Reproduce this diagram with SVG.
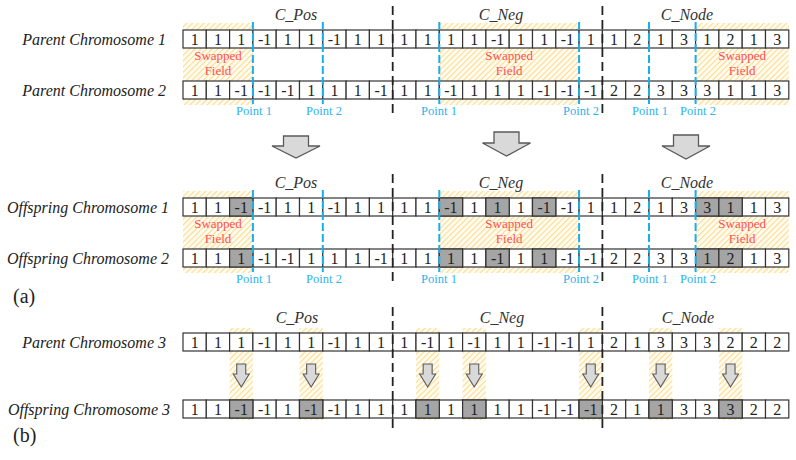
<svg xmlns="http://www.w3.org/2000/svg" xmlns:xlink="http://www.w3.org/1999/xlink" width="796" height="460" viewBox="0 0 796 460">
<style>
.v{font-family:"Liberation Serif","Times New Roman",serif;font-size:16px;text-anchor:middle;fill:#222}
.lbl{font-family:"Liberation Serif","Times New Roman",serif;font-style:italic;font-size:16px;text-anchor:end;fill:#222}
.sec{font-family:"Liberation Serif","Times New Roman",serif;font-style:italic;font-size:16px;text-anchor:middle;fill:#333}
.pt{font-family:"Liberation Serif","Times New Roman",serif;font-size:12.5px;text-anchor:middle;fill:#2db4ee}
.sw{font-family:"Liberation Serif","Times New Roman",serif;font-size:13px;text-anchor:middle;fill:#ff5050}
.tag{font-family:"Liberation Serif","Times New Roman",serif;font-size:20px;fill:#222}
.cell{fill:#fff;stroke:#333;stroke-width:1.2}
.g{fill:#a5a5a5;stroke:#333;stroke-width:1.2}
.hatch{fill:url(#hp)}
.cut{stroke:#1aaeea;stroke-width:2;stroke-dasharray:8,3;fill:none}
.div{stroke:#222;stroke-width:1.8;stroke-dasharray:9,5;fill:none}
.big{fill:#d9d9d9;stroke:#5a5a5a;stroke-width:1.3}
</style>
<defs>
<pattern id="hp" patternUnits="userSpaceOnUse" width="4" height="4" patternTransform="rotate(45)">
<rect width="4" height="4" fill="#fffcf0"/>
<rect width="1.1" height="4" fill="#fcdb92"/>
</pattern>
<g id="frame">
<rect class="cell" x="183" y="0" width="23.3" height="18"/><rect class="cell" x="206.3" y="0" width="23.3" height="18"/><rect class="cell" x="229.6" y="0" width="23.3" height="18"/><rect class="cell" x="252.9" y="0" width="23.3" height="18"/><rect class="cell" x="276.2" y="0" width="23.3" height="18"/><rect class="cell" x="299.5" y="0" width="23.3" height="18"/><rect class="cell" x="322.8" y="0" width="23.3" height="18"/><rect class="cell" x="346.1" y="0" width="23.3" height="18"/><rect class="cell" x="369.4" y="0" width="23.3" height="18"/><rect class="cell" x="392.7" y="0" width="23.3" height="18"/><rect class="cell" x="416" y="0" width="23.3" height="18"/><rect class="cell" x="439.3" y="0" width="23.3" height="18"/><rect class="cell" x="462.6" y="0" width="23.3" height="18"/><rect class="cell" x="485.9" y="0" width="23.3" height="18"/><rect class="cell" x="509.2" y="0" width="23.3" height="18"/><rect class="cell" x="532.5" y="0" width="23.3" height="18"/><rect class="cell" x="555.8" y="0" width="23.3" height="18"/><rect class="cell" x="579.1" y="0" width="23.3" height="18"/><rect class="cell" x="602.4" y="0" width="23.3" height="18"/><rect class="cell" x="625.7" y="0" width="23.3" height="18"/><rect class="cell" x="649" y="0" width="23.3" height="18"/><rect class="cell" x="672.3" y="0" width="23.3" height="18"/><rect class="cell" x="695.6" y="0" width="23.3" height="18"/><rect class="cell" x="718.9" y="0" width="23.3" height="18"/><rect class="cell" x="742.2" y="0" width="23.3" height="18"/><rect class="cell" x="765.5" y="0" width="23.3" height="18"/>
</g>
<path id="sarrow" d="M-4.5,0 H4.5 V10 H8 L0,23 L-8,10 H-4.5 Z"/>
</defs>
<rect width="796" height="460" fill="#fff"/>

<!-- hatched swapped fields / mutation columns -->
<g id="hatches">
<rect class="hatch" x="183" y="23" width="69.9" height="82"/>
<rect class="hatch" x="439.3" y="23" width="139.8" height="82"/>
<rect class="hatch" x="695.6" y="23" width="93.2" height="82"/>
<rect class="hatch" x="183" y="191" width="69.9" height="82"/>
<rect class="hatch" x="439.3" y="191" width="139.8" height="82"/>
<rect class="hatch" x="695.6" y="191" width="93.2" height="82"/>
<rect class="hatch" x="229.6" y="328" width="23.3" height="92"/>
<rect class="hatch" x="299.5" y="328" width="23.3" height="92"/>
<rect class="hatch" x="416" y="328" width="23.3" height="92"/>
<rect class="hatch" x="462.6" y="328" width="23.3" height="92"/>
<rect class="hatch" x="579.1" y="328" width="23.3" height="92"/>
<rect class="hatch" x="649" y="328" width="23.3" height="92"/>
<rect class="hatch" x="718.9" y="328" width="23.3" height="92"/>
</g>

<g id="swapped-texts">
<text class="sw" x="218" y="60">Swapped</text><text class="sw" x="218" y="74.5">Field</text>
<text class="sw" x="509.2" y="60">Swapped</text><text class="sw" x="509.2" y="74.5">Field</text>
<text class="sw" x="742.2" y="60">Swapped</text><text class="sw" x="742.2" y="74.5">Field</text>
<text class="sw" x="218" y="228">Swapped</text><text class="sw" x="218" y="242.5">Field</text>
<text class="sw" x="509.2" y="228">Swapped</text><text class="sw" x="509.2" y="242.5">Field</text>
<text class="sw" x="742.2" y="228">Swapped</text><text class="sw" x="742.2" y="242.5">Field</text>
</g>

<g id="section-labels">
<text class="sec" x="296" y="20">C_Pos</text><text class="sec" x="501" y="20">C_Neg</text><text class="sec" x="687" y="20">C_Node</text>
<text class="sec" x="296" y="188">C_Pos</text><text class="sec" x="501" y="188">C_Neg</text><text class="sec" x="687" y="188">C_Node</text>
<text class="sec" x="297" y="323">C_Pos</text><text class="sec" x="502" y="323">C_Neg</text><text class="sec" x="688" y="323">C_Node</text>
</g>

<!-- Parent Chromosome 1 -->
<g id="parent1">
<text class="lbl" x="166" y="45">Parent Chromosome 1</text>
<use xlink:href="#frame" href="#frame" y="30"/>
<g transform="translate(0,45)">
<text class="v" x="194.65">1</text><text class="v" x="217.95">1</text><text class="v" x="241.25">1</text><text class="v" x="264.55">-1</text><text class="v" x="287.85">1</text><text class="v" x="311.15">1</text><text class="v" x="334.45">-1</text><text class="v" x="357.75">1</text><text class="v" x="381.05">1</text>
<text class="v" x="404.35">1</text><text class="v" x="427.65">1</text><text class="v" x="450.95">1</text><text class="v" x="474.25">1</text><text class="v" x="497.55">-1</text><text class="v" x="520.85">1</text><text class="v" x="544.15">1</text><text class="v" x="567.45">-1</text><text class="v" x="590.75">1</text>
<text class="v" x="614.05">1</text><text class="v" x="637.35">2</text><text class="v" x="660.65">1</text><text class="v" x="683.95">3</text><text class="v" x="707.25">1</text><text class="v" x="730.55">2</text><text class="v" x="753.85">1</text><text class="v" x="777.15">3</text>
</g>
</g>

<!-- Parent Chromosome 2 -->
<g id="parent2">
<text class="lbl" x="166" y="96">Parent Chromosome 2</text>
<use xlink:href="#frame" href="#frame" y="81"/>
<g transform="translate(0,96)">
<text class="v" x="194.65">1</text><text class="v" x="217.95">1</text><text class="v" x="241.25">-1</text><text class="v" x="264.55">-1</text><text class="v" x="287.85">-1</text><text class="v" x="311.15">1</text><text class="v" x="334.45">1</text><text class="v" x="357.75">1</text><text class="v" x="381.05">-1</text>
<text class="v" x="404.35">1</text><text class="v" x="427.65">1</text><text class="v" x="450.95">-1</text><text class="v" x="474.25">1</text><text class="v" x="497.55">1</text><text class="v" x="520.85">1</text><text class="v" x="544.15">-1</text><text class="v" x="567.45">-1</text><text class="v" x="590.75">-1</text>
<text class="v" x="614.05">2</text><text class="v" x="637.35">2</text><text class="v" x="660.65">3</text><text class="v" x="683.95">3</text><text class="v" x="707.25">3</text><text class="v" x="730.55">1</text><text class="v" x="753.85">1</text><text class="v" x="777.15">3</text>
</g>
</g>

<!-- Offspring Chromosome 1 -->
<g id="offspring1">
<text class="lbl" x="169" y="213">Offspring Chromosome 1</text>
<use xlink:href="#frame" href="#frame" y="198"/>
<rect class="g" x="229.6" y="198" width="23.3" height="18"/><rect class="g" x="439.3" y="198" width="23.3" height="18"/><rect class="g" x="485.9" y="198" width="23.3" height="18"/><rect class="g" x="532.5" y="198" width="23.3" height="18"/><rect class="g" x="695.6" y="198" width="23.3" height="18"/><rect class="g" x="718.9" y="198" width="23.3" height="18"/>
<g transform="translate(0,213)">
<text class="v" x="194.65">1</text><text class="v" x="217.95">1</text><text class="v" x="241.25">-1</text><text class="v" x="264.55">-1</text><text class="v" x="287.85">1</text><text class="v" x="311.15">1</text><text class="v" x="334.45">-1</text><text class="v" x="357.75">1</text><text class="v" x="381.05">1</text>
<text class="v" x="404.35">1</text><text class="v" x="427.65">1</text><text class="v" x="450.95">-1</text><text class="v" x="474.25">1</text><text class="v" x="497.55">1</text><text class="v" x="520.85">1</text><text class="v" x="544.15">-1</text><text class="v" x="567.45">-1</text><text class="v" x="590.75">1</text>
<text class="v" x="614.05">1</text><text class="v" x="637.35">2</text><text class="v" x="660.65">1</text><text class="v" x="683.95">3</text><text class="v" x="707.25">3</text><text class="v" x="730.55">1</text><text class="v" x="753.85">1</text><text class="v" x="777.15">3</text>
</g>
</g>

<!-- Offspring Chromosome 2 -->
<g id="offspring2">
<text class="lbl" x="169" y="264">Offspring Chromosome 2</text>
<use xlink:href="#frame" href="#frame" y="249"/>
<rect class="g" x="229.6" y="249" width="23.3" height="18"/><rect class="g" x="439.3" y="249" width="23.3" height="18"/><rect class="g" x="485.9" y="249" width="23.3" height="18"/><rect class="g" x="532.5" y="249" width="23.3" height="18"/><rect class="g" x="695.6" y="249" width="23.3" height="18"/><rect class="g" x="718.9" y="249" width="23.3" height="18"/>
<g transform="translate(0,264)">
<text class="v" x="194.65">1</text><text class="v" x="217.95">1</text><text class="v" x="241.25">1</text><text class="v" x="264.55">-1</text><text class="v" x="287.85">-1</text><text class="v" x="311.15">1</text><text class="v" x="334.45">1</text><text class="v" x="357.75">1</text><text class="v" x="381.05">-1</text>
<text class="v" x="404.35">1</text><text class="v" x="427.65">1</text><text class="v" x="450.95">1</text><text class="v" x="474.25">1</text><text class="v" x="497.55">-1</text><text class="v" x="520.85">1</text><text class="v" x="544.15">1</text><text class="v" x="567.45">-1</text><text class="v" x="590.75">-1</text>
<text class="v" x="614.05">2</text><text class="v" x="637.35">2</text><text class="v" x="660.65">3</text><text class="v" x="683.95">3</text><text class="v" x="707.25">1</text><text class="v" x="730.55">2</text><text class="v" x="753.85">1</text><text class="v" x="777.15">3</text>
</g>
</g>

<!-- Parent Chromosome 3 -->
<g id="parent3">
<text class="lbl" x="166" y="348">Parent Chromosome 3</text>
<use xlink:href="#frame" href="#frame" y="333"/>
<g transform="translate(0,348)">
<text class="v" x="194.65">1</text><text class="v" x="217.95">1</text><text class="v" x="241.25">1</text><text class="v" x="264.55">-1</text><text class="v" x="287.85">1</text><text class="v" x="311.15">1</text><text class="v" x="334.45">-1</text><text class="v" x="357.75">1</text><text class="v" x="381.05">1</text>
<text class="v" x="404.35">1</text><text class="v" x="427.65">-1</text><text class="v" x="450.95">1</text><text class="v" x="474.25">-1</text><text class="v" x="497.55">1</text><text class="v" x="520.85">1</text><text class="v" x="544.15">-1</text><text class="v" x="567.45">-1</text><text class="v" x="590.75">1</text>
<text class="v" x="614.05">2</text><text class="v" x="637.35">1</text><text class="v" x="660.65">3</text><text class="v" x="683.95">3</text><text class="v" x="707.25">3</text><text class="v" x="730.55">2</text><text class="v" x="753.85">2</text><text class="v" x="777.15">2</text>
</g>
</g>

<!-- Offspring Chromosome 3 -->
<g id="offspring3">
<text class="lbl" x="170" y="415">Offspring Chromosome 3</text>
<use xlink:href="#frame" href="#frame" y="400"/>
<rect class="g" x="229.6" y="400" width="23.3" height="18"/><rect class="g" x="299.5" y="400" width="23.3" height="18"/><rect class="g" x="416" y="400" width="23.3" height="18"/><rect class="g" x="462.6" y="400" width="23.3" height="18"/><rect class="g" x="579.1" y="400" width="23.3" height="18"/><rect class="g" x="649" y="400" width="23.3" height="18"/><rect class="g" x="718.9" y="400" width="23.3" height="18"/>
<g transform="translate(0,415)">
<text class="v" x="194.65">1</text><text class="v" x="217.95">1</text><text class="v" x="241.25">-1</text><text class="v" x="264.55">-1</text><text class="v" x="287.85">1</text><text class="v" x="311.15">-1</text><text class="v" x="334.45">-1</text><text class="v" x="357.75">1</text><text class="v" x="381.05">1</text>
<text class="v" x="404.35">1</text><text class="v" x="427.65">1</text><text class="v" x="450.95">1</text><text class="v" x="474.25">1</text><text class="v" x="497.55">1</text><text class="v" x="520.85">1</text><text class="v" x="544.15">-1</text><text class="v" x="567.45">-1</text><text class="v" x="590.75">-1</text>
<text class="v" x="614.05">2</text><text class="v" x="637.35">1</text><text class="v" x="660.65">1</text><text class="v" x="683.95">3</text><text class="v" x="707.25">3</text><text class="v" x="730.55">3</text><text class="v" x="753.85">2</text><text class="v" x="777.15">2</text>
</g>
</g>

<!-- connectors: cut lines, dividers, arrows -->
<g id="connectors">
<path class="cut" d="M252.9,22V104M322.8,22V104M439.3,22V104M579.1,22V104M649,22V104M695.6,22V104"/>
<path class="cut" d="M252.9,190V272M322.8,190V272M439.3,190V272M579.1,190V272M649,190V272M695.6,190V272"/>
<path class="div" d="M392.7,6V117M602.4,6V117M392.7,174V285M602.4,174V285M392.7,307V428M602.4,307V428"/>
<path class="big" d="M283.5,136H308.5V146H320L296,158L272,146H283.5Z"/>
<path class="big" d="M494,132H519V143H530.5L506.5,156L482.5,143H494Z"/>
<path class="big" d="M673.5,135H698.5V146H710L686,159L662,146H673.5Z"/>
<g fill="#d9d9d9" stroke="#5a5a5a" stroke-width="1.1">
<use xlink:href="#sarrow" href="#sarrow" x="241.25" y="364"/>
<use xlink:href="#sarrow" href="#sarrow" x="311.15" y="364"/>
<use xlink:href="#sarrow" href="#sarrow" x="427.65" y="364"/>
<use xlink:href="#sarrow" href="#sarrow" x="474.25" y="364"/>
<use xlink:href="#sarrow" href="#sarrow" x="590.75" y="364"/>
<use xlink:href="#sarrow" href="#sarrow" x="660.65" y="364"/>
<use xlink:href="#sarrow" href="#sarrow" x="730.55" y="364"/>
</g>
</g>

<g id="point-labels">
<text class="pt" x="254" y="115">Point 1</text><text class="pt" x="324" y="115">Point 2</text>
<text class="pt" x="439" y="115">Point 1</text><text class="pt" x="581" y="115">Point 2</text>
<text class="pt" x="650" y="115">Point 1</text><text class="pt" x="698" y="115">Point 2</text>
<text class="pt" x="254" y="283">Point 1</text><text class="pt" x="324" y="283">Point 2</text>
<text class="pt" x="439" y="283">Point 1</text><text class="pt" x="581" y="283">Point 2</text>
<text class="pt" x="650" y="283">Point 1</text><text class="pt" x="698" y="283">Point 2</text>
</g>

<text class="tag" x="13" y="303">(a)</text>
<text class="tag" x="13" y="442">(b)</text>
</svg>
